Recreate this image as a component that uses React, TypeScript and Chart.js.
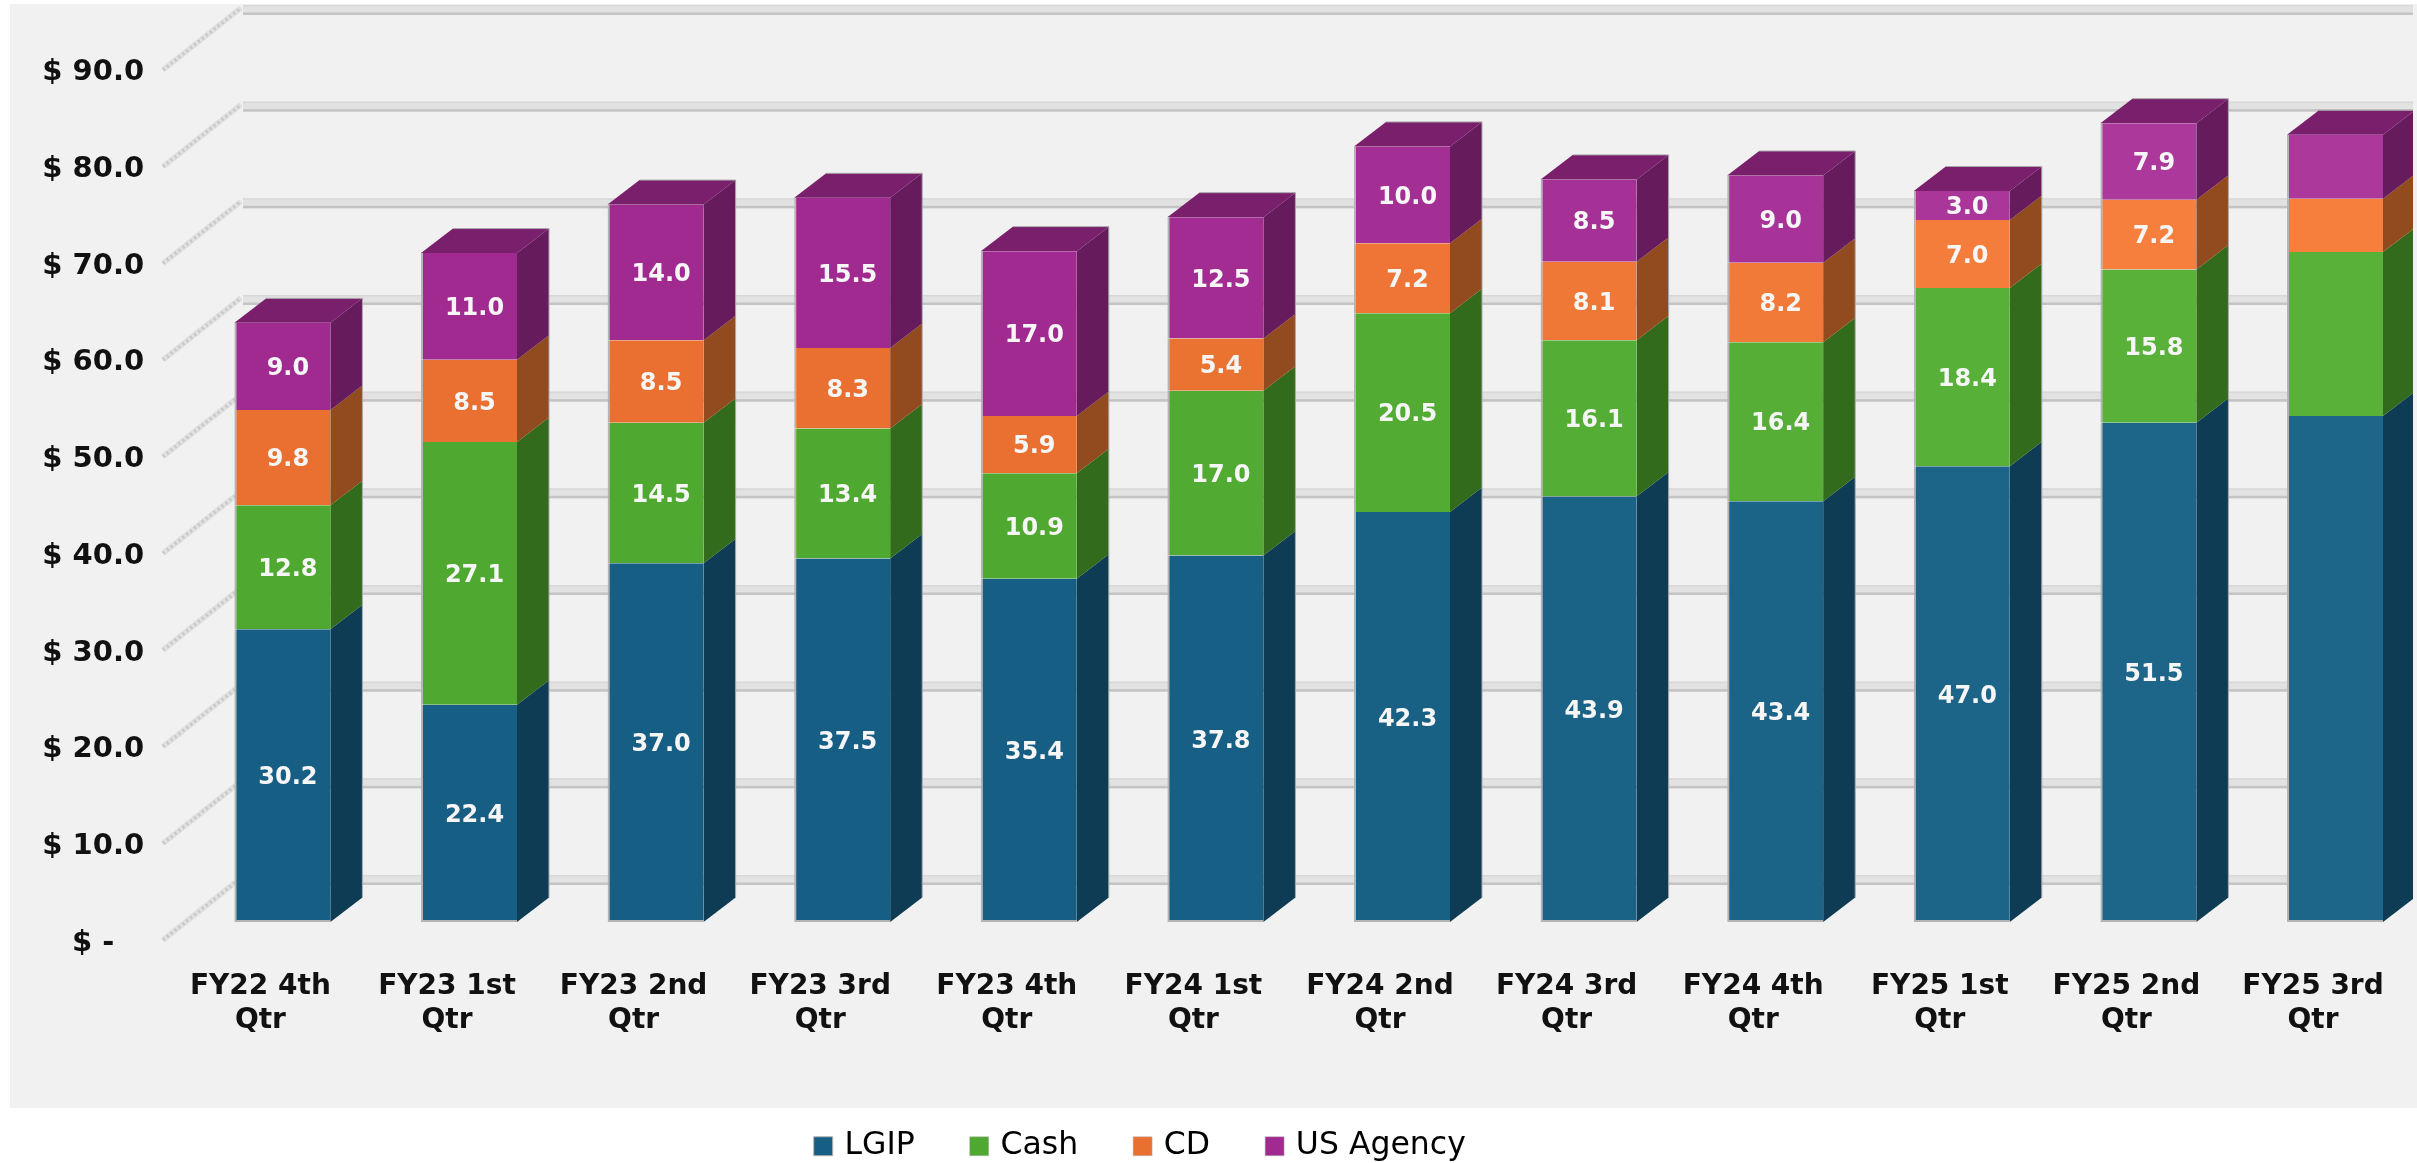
import React, { useEffect, useRef } from "react";
import { Chart, registerables } from "chart.js";

Chart.register(...registerables);

const categories = [
  ["FY22 4th", "Qtr"], ["FY23 1st", "Qtr"], ["FY23 2nd", "Qtr"], ["FY23 3rd", "Qtr"],
  ["FY23 4th", "Qtr"], ["FY24 1st", "Qtr"], ["FY24 2nd", "Qtr"], ["FY24 3rd", "Qtr"],
  ["FY24 4th", "Qtr"], ["FY25 1st", "Qtr"], ["FY25 2nd", "Qtr"], ["FY25 3rd", "Qtr"],
];
const lgip = [30.2, 22.4, 37.0, 37.5, 35.4, 37.8, 42.3, 43.9, 43.4, 47.0, 51.5, 52.2];
const cash = [12.8, 27.1, 14.5, 13.4, 10.9, 17.0, 20.5, 16.1, 16.4, 18.4, 15.8, 16.9];
const cd = [9.8, 8.5, 8.5, 8.3, 5.9, 5.4, 7.2, 8.1, 8.2, 7.0, 7.2, 5.5];
const usAgency = [9.0, 11.0, 14.0, 15.5, 17.0, 12.5, 10.0, 8.5, 9.0, 3.0, 7.9, 6.6];
const wallTicks = [0, 10, 20, 30, 40, 50, 60, 70, 80, 90];
// The last quarter carries no value labels in the source picture.
const labelledQuarters = 11;

const FONT = "'DejaVu Sans', Verdana, sans-serif";
const DEPTH_X = 32;
const DEPTH_Y = 24.5;
const WALL_DROP = 63;
const CLIP_RIGHT = 2413;
const GRID_LEFT = 243;

const hex = (c: string) => [1, 3, 5].map((i) => parseInt(c.slice(i, i + 2), 16));
const mix = (a: string, b: string, t: number) => {
  const A = hex(a), B = hex(b);
  return `rgb(${A.map((v, i) => Math.round(v + (B[i] - v) * t)).join(",")})`;
};
// Source image brightens gradually to the right.
const ramp = (dark: string, light: string) =>
  categories.map((_, i) => mix(dark, light, Math.max(0, Math.min(1, (i - 4) / 6))));

const sideColors = ["#0E3C55", "#336B1C", "#924A1F", "#651B5C"];
const TOP_COLOR = "#7A1F6C";

const depthPlugin = {
  id: "depth",
  beforeDraw(chart: any) {
    const { ctx } = chart;
    ctx.save();
    ctx.fillStyle = "#F1F1F1";
    ctx.fillRect(10, 4, chart.width - 10, 1104);
    ctx.restore();
  },
  afterLayout(chart: any) {
    chart.legend.left = 758.7;
    chart.legend.top = 1071.5;
  },
  beforeDatasetsDraw(chart: any) {
    const { ctx } = chart;
    const wall = chart.scales.wall;
    ctx.save();
    ctx.beginPath();
    ctx.rect(0, 0, CLIP_RIGHT, chart.height);
    ctx.clip();
    // wall: diagonal and back gridline for every tick
    wall.ticks.forEach((t: any) => {
      const py = wall.getPixelForValue(t.value);
      const back = py - WALL_DROP;
      ctx.lineCap = "butt";
      ctx.strokeStyle = "#E0E0E0";
      ctx.lineWidth = 5.5;
      ctx.beginPath();
      ctx.moveTo(163, py - 3);
      ctx.lineTo(GRID_LEFT - 2, back - 2);
      ctx.stroke();
      ctx.strokeStyle = "#C8C8C8";
      ctx.lineWidth = 3.5;
      ctx.setLineDash([2, 3]);
      ctx.beginPath();
      ctx.moveTo(163, py - 3);
      ctx.lineTo(GRID_LEFT - 2, back - 2);
      ctx.stroke();
      ctx.setLineDash([]);
      const w = CLIP_RIGHT - GRID_LEFT;
      ctx.fillStyle = "#E2E2E2";
      ctx.fillRect(GRID_LEFT, back - 5, w, 10);
      ctx.fillStyle = "#D8D8D8";
      ctx.fillRect(GRID_LEFT, back - 5, w, 1.5);
      ctx.fillStyle = "#C4C4C4";
      ctx.fillRect(GRID_LEFT, back + 2.5, w, 2.5);
    });
    // side and top faces of each bar
    chart.data.datasets.forEach((ds: any, di: number) => {
      const meta = chart.getDatasetMeta(di);
      meta.data.forEach((el: any) => {
        const { x, y: top, base, width } = el.getProps(["x", "y", "base", "width"], true);
        const right = x + width / 2;
        const left = x - width / 2;
        ctx.fillStyle = sideColors[di];
        ctx.beginPath();
        ctx.moveTo(right, top);
        ctx.lineTo(right + DEPTH_X, top - DEPTH_Y);
        ctx.lineTo(right + DEPTH_X, base - DEPTH_Y);
        ctx.lineTo(right, base);
        ctx.closePath();
        ctx.fill();
        ctx.strokeStyle = "#A8A8A8";
        ctx.lineWidth = 1;
        ctx.beginPath();
        ctx.moveTo(right + DEPTH_X, top - DEPTH_Y);
        ctx.lineTo(right + DEPTH_X, base - DEPTH_Y);
        ctx.stroke();
        if (di === chart.data.datasets.length - 1) {
          ctx.fillStyle = TOP_COLOR;
          ctx.beginPath();
          ctx.moveTo(left, top);
          ctx.lineTo(left + DEPTH_X, top - DEPTH_Y);
          ctx.lineTo(right + DEPTH_X, top - DEPTH_Y);
          ctx.lineTo(right, top);
          ctx.closePath();
          ctx.fill();
          ctx.strokeStyle = "#A8A8A8";
          ctx.beginPath();
          ctx.moveTo(left + DEPTH_X, top - DEPTH_Y);
          ctx.lineTo(right + DEPTH_X, top - DEPTH_Y);
          ctx.stroke();
        }
      });
    });
    ctx.restore();
  },
  afterDatasetsDraw(chart: any) {
    const { ctx } = chart;
    ctx.save();
    ctx.font = `bold 24px ${FONT}`;
    ctx.fillStyle = "#F6F6F6";
    ctx.textAlign = "center";
    ctx.textBaseline = "middle";
    chart.data.datasets.forEach((ds: any, di: number) => {
      chart.getDatasetMeta(di).data.forEach((el: any, i: number) => {
        if (i >= labelledQuarters) return;
        const { x, y: top, base } = el.getProps(["x", "y", "base"], true);
        ctx.fillText(ds.data[i].toFixed(1), x + 5.5, (top + base) / 2 + 2.5);
      });
    });
    ctx.restore();
  },
};

export default function App() {
  const ref = useRef<HTMLCanvasElement | null>(null);
  useEffect(() => {
    document.body.style.margin = "0";
    const series = [
      { label: "LGIP", data: lgip, backgroundColor: ramp("#165E83", "#1D6689") },
      { label: "Cash", data: cash, backgroundColor: ramp("#4FA82F", "#59B13A") },
      { label: "CD", data: cd, backgroundColor: ramp("#E97030", "#F77F3E") },
      { label: "US Agency", data: usAgency, backgroundColor: ramp("#A02A90", "#AC389C") },
    ];
    const chart = new Chart(ref.current as any, {
      type: "bar",
      data: {
        labels: categories,
        datasets: series.map((s, i) => ({
          ...s,
          borderColor: "#B4B4B4",
          borderWidth: { left: 2, bottom: i === 0 ? 2 : 0, top: 0, right: 0 },
          borderSkipped: false,
          barPercentage: 96 / 186.6,
          categoryPercentage: 1,
        })),
      },
      plugins: [depthPlugin],
      options: {
        animation: false,
        responsive: false,
        devicePixelRatio: 1,
        layout: { padding: { top: 4.3, right: 1.7, left: 0, bottom: 0 } },
        scales: {
          x: {
            stacked: true,
            grid: { display: false, drawTicks: false },
            border: { display: false },
            afterFit: (s: any) => { s.height = 195; s.paddingLeft = 0; s.paddingRight = 0; },
            ticks: {
              autoSkip: false,
              maxRotation: 0,
              minRotation: 0,
              padding: 47.5,
              labelOffset: -22,
              color: "#111",
              font: { family: FONT, size: 28, weight: "bold", lineHeight: 1.22 },
            },
          },
          // Scale that carries the bars.
          y: {
            stacked: true,
            display: false,
            min: 0,
            max: 94.66,
          },
          // Scale of the back wall and front labels: its zero sits below the bars' floor.
          wall: {
            type: "linear",
            position: "left",
            min: 2.172,
            max: 97.1,
            grid: { display: false, drawTicks: false },
            border: { display: false },
            afterBuildTicks: (s: any) => { s.ticks = wallTicks.map((value) => ({ value })); },
            afterFit: (s: any) => { s.width = 189.1; s.paddingTop = 0; s.paddingBottom = 0; },
            ticks: {
              autoSkip: false,
              crossAlign: "center",
              padding: 45,
              color: "#111",
              font: { family: FONT, size: 29, weight: "bold" },
              callback: (v: any) => (v === 0 ? "$ -" : `$ ${Number(v).toFixed(1)}`),
            },
          },
        },
        plugins: {
          tooltip: { enabled: false },
          legend: {
            position: "bottom",
            align: "start",
            maxHeight: 46,
            labels: {
              usePointStyle: true,
              pointStyle: "rect",
              boxWidth: 11,
              boxHeight: 19,
              padding: 59,
              color: "#000",
              font: { family: FONT, size: 31.5 },
            },
          },
        },
      } as any,
    } as any);
    return () => chart.destroy();
  }, []);
  return (
    <div style={{ position: "absolute", left: 0, top: 0, width: 2417, height: 1163, overflow: "hidden", background: "#fff" }}>
      <canvas ref={ref} width={2430} height={1163} style={{ display: "block", filter: "blur(0.5px)" }} />
    </div>
  );
}
